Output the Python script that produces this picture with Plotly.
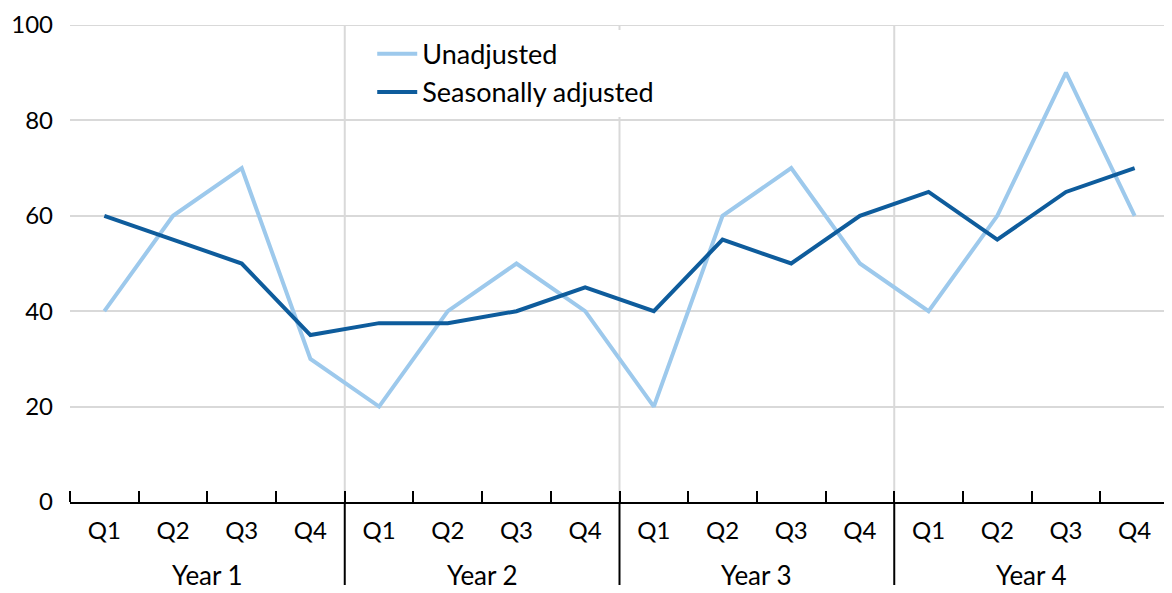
import plotly.graph_objects as go

year_labels = ["Year 1", "Year 2", "Year 3", "Year 4"]
quarters = ["Q1", "Q2", "Q3", "Q4"] * 4
unadjusted = [40, 60, 70, 30, 20, 40, 50, 40, 20, 60, 70, 50, 40, 60, 90, 60]
seasonally_adjusted = [60, 55, 50, 35, 37.5, 37.5, 40, 45, 40, 55, 50, 60, 65, 55, 65, 70]
y_ticks = [0, 20, 40, 60, 80, 100]

FONT = "Lato, 'Open Sans', sans-serif"
n = len(quarters)
per_year = n // len(year_labels)
x_idx = list(range(n))

fig = go.Figure()
fig.add_trace(go.Scatter(x=x_idx, y=unadjusted, mode="lines", name="Unadjusted", legendgroup="a",
                         line=dict(color="#9DC9EC", width=4)))
fig.add_trace(go.Scatter(x=x_idx, y=seasonally_adjusted, mode="lines", name="Seasonally adjusted",
                         legendgroup="b", line=dict(color="#0E5C9C", width=4)))

W, H = 1164, 585
M_L, M_R, M_T, M_B = 62, 3, 17, 91
plot_h = H - M_T - M_B
shapes = [dict(type="line", xref="paper", yref="y", x0=0, x1=1, y0=y_ticks[-1], y1=y_ticks[-1],
               line=dict(color="#D9D9D9", width=2), layer="below")]
annotations = []
for k in range(len(year_labels)):
    start = k * per_year
    if k > 0:
        xb = start - 0.5
        shapes.append(dict(type="line", xref="x", yref="paper", x0=xb, x1=xb, y0=0, y1=1,
                           line=dict(color="#D9D9D9", width=2), layer="below"))
        shapes.append(dict(type="line", xref="x", yref="paper", x0=xb, x1=xb, y0=0, y1=-83 / plot_h,
                           line=dict(color="black", width=2), layer="above"))
    annotations.append(dict(x=start + (per_year - 1) / 2, y=0, xref="x", yref="paper",
                            text=year_labels[k], showarrow=False, yanchor="middle", yshift=-73,
                            font=dict(size=26)))

fig.update_layout(
    width=W, height=H,
    margin=dict(l=M_L, r=M_R, t=M_T, b=M_B),
    plot_bgcolor="white", paper_bgcolor="white",
    font=dict(family=FONT, size=24, color="#000000"),
    shapes=shapes, annotations=annotations,
    showlegend=True,
    legend=dict(x=0.275, y=0.99, xanchor="left", yanchor="top", bgcolor="white",
                font=dict(size=27), tracegroupgap=0, itemwidth=40),
    xaxis=dict(range=[-0.5, n - 0.5], tickmode="array", tickvals=x_idx, ticktext=quarters,
               showgrid=False, zeroline=False, showline=True, linecolor="black", linewidth=2,
               ticks="", tickfont=dict(size=24), ticklabelstandoff=6, automargin=False,
               ticklabeloverflow="allow",
               minor=dict(tickmode="array", tickvals=[i - 0.5 for i in range(n + 1)], ticks="inside",
                          ticklen=11, tickcolor="black", tickwidth=2, showgrid=False)),
    yaxis=dict(range=[y_ticks[0], y_ticks[-1]], tickvals=y_ticks, showgrid=True, gridcolor="#D9D9D9",
               gridwidth=2, zeroline=False, showline=False, ticks="", tickfont=dict(size=24),
               ticklabelstandoff=16, automargin=False, ticklabeloverflow="allow"),
)
fig.write_html("out.html")
